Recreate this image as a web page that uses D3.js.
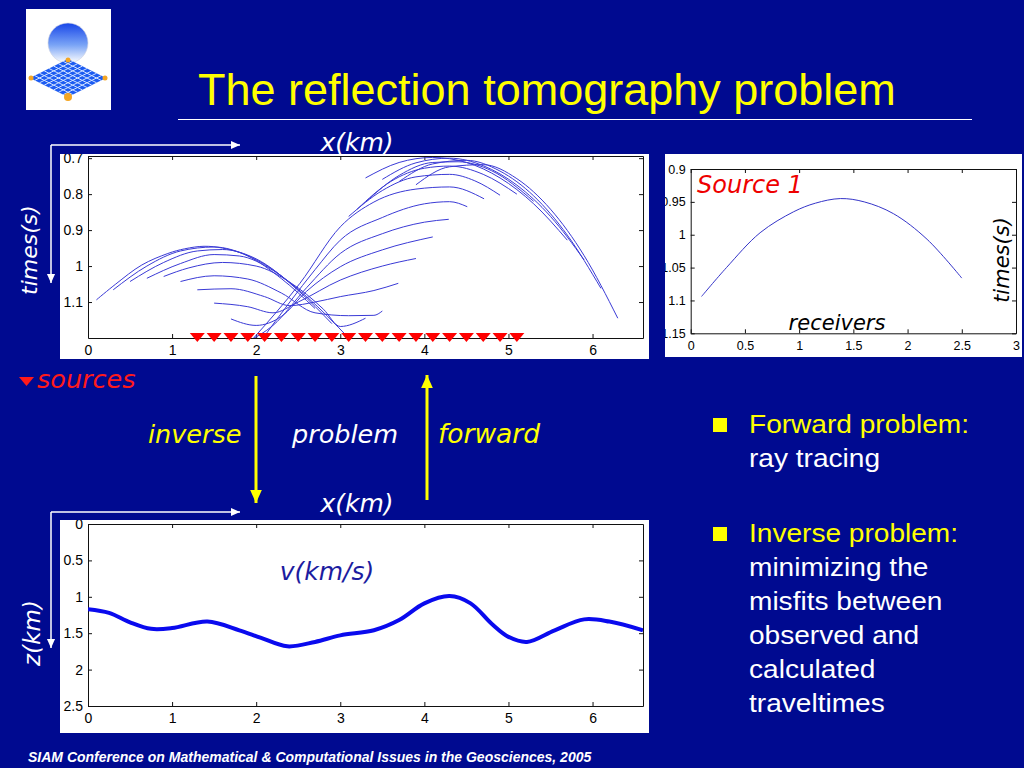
<!DOCTYPE html>
<html>
<head>
<meta charset="utf-8">
<script src="https://cdn.jsdelivr.net/npm/d3@7"></script>
<style>
  body { margin: 0; background: #000a90; }
  svg { display: block; }
</style>
</head>
<body>
<svg id="slide" width="1024" height="768"></svg>
<script>
// ---- data ----
const sourcePositions = [1.3, 1.5, 1.7, 1.9, 2.1, 2.3, 2.5, 2.7, 2.9, 3.1,
                         3.3, 3.5, 3.7, 3.9, 4.1, 4.3, 4.5, 4.7, 4.9, 5.1];

// source 1 traveltime curve (right panel, also first curve of the left panel)
const sourceOneX = [0.1, 0.33, 0.64, 0.95, 1.15, 1.38, 1.6, 1.87, 2.18, 2.5];
const sourceOneT = [1.094, 1.05, 0.997, 0.965, 0.952, 0.945, 0.95, 0.968, 1.007, 1.066];

// traveltime curves reflected off the left bump (x, t)
const leftFamily = [
  [[0.3,1.066],[0.7,1.0],[1.1,0.958],[1.5,0.947],[1.9,0.972],[2.3,1.035],[2.7,1.118]],
  [[0.5,1.043],[0.9,0.99],[1.3,0.958],[1.6,0.954],[2.0,0.98],[2.5,1.068],[2.9,1.16]],
  [[0.7,1.034],[1.1,0.993],[1.5,0.968],[1.8,0.972],[2.2,1.012],[2.6,1.085],[3.1,1.2]],
  [[0.9,1.029],[1.2,1.005],[1.6,0.99],[2.0,1.0],[2.4,1.045],[2.8,1.12],[3.0,1.168],[3.3,1.145]],
  [[1.1,1.043],[1.5,1.027],[1.9,1.036],[2.3,1.075],[2.7,1.13],[3.1,1.138],[3.4,1.137],[3.5,1.125]],
  [[1.3,1.066],[1.7,1.063],[2.1,1.085],[2.4,1.11],[2.7,1.1],[3.0,1.085],[3.4,1.068],[3.69,1.048]],
  [[1.5,1.103],[1.9,1.113],[2.2,1.13],[2.5,1.1],[3.0,1.039],[3.5,1.0],[3.9,0.979]],
  [[1.7,1.147],[2.0,1.165],[2.3,1.14],[2.6,1.07],[3.0,1.002],[3.5,0.955],[4.1,0.919]]
];

// traveltime curves reflected off the dome (x, t)
const domeFamily = [
  [[1.9,1.21],[2.2,1.165],[2.6,1.06],[3.0,0.965],[3.5,0.91],[4.0,0.878],[4.29,0.870]],
  [[2.05,1.21],[2.4,1.1],[2.7,1.01],[3.0,0.928],[3.5,0.865],[4.0,0.827],[4.3,0.821],[4.51,0.835]],
  [[1.97,1.2],[2.52,1.048],[3.0,0.891],[3.4,0.822],[3.9,0.786],[4.3,0.78],[4.71,0.813]],
  [[3.1,0.862],[3.5,0.79],[3.9,0.752],[4.3,0.745],[4.6,0.763],[4.9,0.803]],
  [[3.2,0.842],[3.6,0.765],[4.0,0.728],[4.3,0.722],[4.7,0.745],[5.1,0.80]],
  [[3.3,0.822],[3.7,0.748],[4.1,0.712],[4.4,0.71],[4.8,0.735],[5.3,0.82]],
  [[3.3,0.755],[3.7,0.712],[4.1,0.698],[4.5,0.712],[4.9,0.755],[5.3,0.827],[5.7,0.928]],
  [[3.5,0.759],[3.9,0.713],[4.3,0.70],[4.7,0.721],[5.1,0.775],[5.5,0.862],[5.9,0.983]],
  [[3.7,0.765],[4.1,0.716],[4.5,0.706],[4.9,0.736],[5.3,0.805],[5.7,0.914],[6.1,1.062]],
  [[3.9,0.774],[4.3,0.724],[4.7,0.718],[5.1,0.757],[5.5,0.842],[5.9,0.971],[6.3,1.145]]
];

// reflector depth (bottom panel)
const interfaceX = [0, 0.25, 0.5, 0.75, 1.0, 1.42, 1.8, 2.05, 2.37, 2.7, 3.0, 3.4, 3.7, 4.0, 4.3, 4.55, 4.8, 5.0, 5.22, 5.55, 5.9, 6.2, 6.6];
const interfaceZ = [1.17, 1.22, 1.35, 1.44, 1.43, 1.34, 1.46, 1.56, 1.68, 1.62, 1.53, 1.46, 1.32, 1.09, 0.99, 1.09, 1.37, 1.55, 1.62, 1.46, 1.31, 1.34, 1.46];

const kmTicks = [0, 1, 2, 3, 4, 5, 6];
const timeTicks = [0.7, 0.8, 0.9, 1, 1.1];
const depthTicks = [0, 0.5, 1, 1.5, 2, 2.5];
const receiverTicks = [0, 0.5, 1, 1.5, 2, 2.5, 3];
const sourceOneTicks = [0.9, 0.95, 1, 1.05, 1.1, 1.15];

const bulletGroups = [
  ["Forward problem:", "ray tracing"],
  ["Inverse problem:", "minimizing the", "misfits between", "observed and", "calculated", "traveltimes"]
];

// ---- drawing ----
const svg = d3.select("#slide");
const defs = svg.append("defs");
const YELLOW = "#ffff00";
const ITAL = "'DejaVu Sans', sans-serif";
const ARIAL = "'Liberation Sans', Arial, sans-serif";

svg.append("rect").attr("width", 1024).attr("height", 768).attr("fill", "#000a90");

// logo
const sphereGrad = defs.append("linearGradient").attr("id", "sphereGrad")
  .attr("x1", 0).attr("y1", 0).attr("x2", 0).attr("y2", 1);
sphereGrad.append("stop").attr("offset", "0%").attr("stop-color", "#1846e8");
sphereGrad.append("stop").attr("offset", "55%").attr("stop-color", "#7aa4f6");
sphereGrad.append("stop").attr("offset", "100%").attr("stop-color", "#ffffff");

const logo = svg.append("g");
logo.append("rect").attr("x", 26).attr("y", 9).attr("width", 85).attr("height", 101).attr("fill", "#fff");
logo.append("circle").attr("cx", 68).attr("cy", 43).attr("r", 20)
  .attr("fill", "url(#sphereGrad)").attr("stroke", "#d0d4e0").attr("stroke-width", 0.6);
const grid = logo.append("g").attr("transform", "matrix(38,19,-38,19,68,59)");
grid.append("rect").attr("width", 1).attr("height", 1).attr("fill", "#1d5cf2");
d3.range(1, 8).forEach(i => {
  grid.append("line").attr("x1", i / 8).attr("x2", i / 8).attr("y1", 0).attr("y2", 1)
    .attr("stroke", "#cfe0ff").attr("stroke-width", 1).attr("vector-effect", "non-scaling-stroke");
  grid.append("line").attr("y1", i / 8).attr("y2", i / 8).attr("x1", 0).attr("x2", 1)
    .attr("stroke", "#cfe0ff").attr("stroke-width", 1).attr("vector-effect", "non-scaling-stroke");
});
[[68, 60, 2.5], [31, 78, 2.5], [105, 78, 2.5], [68, 97, 4]].forEach(c => {
  logo.append("circle").attr("cx", c[0]).attr("cy", c[1]).attr("r", c[2]).attr("fill", "#f5a623");
});

// title
svg.append("text").attr("x", 198).attr("y", 105)
  .attr("font-family", ARIAL).attr("font-size", 45).attr("fill", YELLOW)
  .text("The reflection tomography problem");
svg.append("line").attr("x1", 178).attr("x2", 972).attr("y1", 119.5).attr("y2", 119.5)
  .attr("stroke", "#fff").attr("stroke-width", 1);

function makePanel(id, box, frame, xDom, yDom, xTicks, yTicks, fontSize, fontFamily, xPad) {
  svg.append("rect").attr("x", box[0]).attr("y", box[1])
    .attr("width", box[2] - box[0]).attr("height", box[3] - box[1]).attr("fill", "#fff");
  defs.append("clipPath").attr("id", id + "-box").append("rect")
    .attr("x", box[0]).attr("y", box[1]).attr("width", box[2] - box[0]).attr("height", box[3] - box[1]);
  defs.append("clipPath").attr("id", id + "-frame").append("rect")
    .attr("x", frame[0]).attr("y", frame[1]).attr("width", frame[2] - frame[0]).attr("height", frame[3] - frame[1]);

  const x = d3.scaleLinear().domain(xDom).range([frame[0], frame[2]]);
  const y = d3.scaleLinear().domain(yDom).range([frame[1], frame[3]]);
  const g = svg.append("g").attr("clip-path", `url(#${id}-box)`);
  const fmt = d => String(d);
  const style = sel => {
    sel.selectAll("text").attr("font-size", fontSize).attr("font-family", fontFamily).attr("fill", "#000");
    sel.selectAll("line,path").attr("stroke", "#111");
  };
  g.append("g").attr("transform", `translate(0,${frame[3]})`)
    .call(d3.axisBottom(x).tickValues(xTicks).tickFormat(fmt).tickSizeInner(-4).tickSizeOuter(0).tickPadding(xPad))
    .call(style);
  g.append("g").attr("transform", `translate(0,${frame[1]})`)
    .call(d3.axisTop(x).tickValues(xTicks).tickFormat("").tickSizeInner(-4).tickSizeOuter(0))
    .call(style);
  g.append("g").attr("transform", `translate(${frame[0]},0)`)
    .call(d3.axisLeft(y).tickValues(yTicks).tickFormat(fmt).tickSizeInner(-4).tickSizeOuter(0).tickPadding(5))
    .call(style);
  g.append("g").attr("transform", `translate(${frame[2]},0)`)
    .call(d3.axisRight(y).tickValues(yTicks).tickFormat("").tickSizeInner(-4).tickSizeOuter(0))
    .call(style);
  const plot = g.append("g").attr("clip-path", `url(#${id}-frame)`);
  return { x, y, g, plot };
}

// top-left: traveltimes of all sources
const tt = makePanel("tt", [60, 154, 649, 359], [88, 156, 643, 338],
  [0, 6.6], [0.694, 1.2], kmTicks, timeTicks, 14, ARIAL, 7);
const ttLine = d3.line().x(d => tt.x(d[0])).y(d => tt.y(d[1])).curve(d3.curveMonotoneX);
const sourceOne = sourceOneX.map((v, i) => [v, sourceOneT[i]]);
tt.plot.append("path").datum(sourceOne)
  .attr("d", ttLine.curve(d3.curveCatmullRom)).attr("fill", "none")
  .attr("stroke", "#3a3ad6").attr("stroke-width", 1);
ttLine.curve(d3.curveMonotoneX);
tt.plot.selectAll("path.tt")
  .data(leftFamily.concat(domeFamily))
  .join("path").attr("class", "tt")
  .attr("d", ttLine).attr("fill", "none")
  .attr("stroke", "#3a3ad6").attr("stroke-width", 1);
tt.g.selectAll("path.src").data(sourcePositions).join("path").attr("class", "src")
  .attr("d", d => {
    const cx = tt.x(d), top = tt.y(1.2) - 5;
    return `M${cx - 7.5},${top}L${cx + 7.5},${top}L${cx},${top + 9}Z`;
  })
  .attr("fill", "#ff0000");

// top-right: source 1
const s1 = makePanel("s1", [665, 154, 1022, 357], [690.7, 169, 1016, 333.3],
  [0, 3], [0.9, 1.15], receiverTicks, sourceOneTicks, 12.5, "'Liberation Sans Narrow', 'Liberation Sans', sans-serif", 8);
s1.plot.append("path").datum(sourceOne)
  .attr("d", d3.line().x(d => s1.x(d[0])).y(d => s1.y(d[1])).curve(d3.curveCatmullRom))
  .attr("fill", "none").attr("stroke", "#3434c8").attr("stroke-width", 1);
svg.append("text").attr("x", 697).attr("y", 193).attr("font-family", ITAL).attr("font-style", "italic")
  .attr("font-size", 24).attr("fill", "#ee0000").text("Source 1");
svg.append("text").attr("x", 837).attr("y", 330).attr("text-anchor", "middle")
  .attr("font-family", ITAL).attr("font-style", "italic").attr("font-size", 21).attr("fill", "#000")
  .text("receivers");
svg.append("text").attr("transform", "translate(1009,260) rotate(-90)").attr("text-anchor", "middle")
  .attr("font-family", ITAL).attr("font-style", "italic").attr("font-size", 21).attr("fill", "#000")
  .text("times(s)");

// bottom: reflector depth
const zp = makePanel("zp", [60, 520, 649, 733], [88, 524, 643, 706],
  [0, 6.6], [0, 2.5], kmTicks, depthTicks, 14, ARIAL, 7);
zp.plot.append("path").datum(interfaceX.map((v, i) => [v, interfaceZ[i]]))
  .attr("d", d3.line().x(d => zp.x(d[0])).y(d => zp.y(d[1])).curve(d3.curveCatmullRom))
  .attr("fill", "none").attr("stroke", "#0a0aee").attr("stroke-width", 4);
svg.append("text").attr("x", 327).attr("y", 580).attr("text-anchor", "middle")
  .attr("font-family", ITAL).attr("font-style", "italic").attr("font-size", 25).attr("fill", "#1c1ca0")
  .text("v(km/s)");

// axis arrows and labels on the blue background
function arrow(x1, y1, x2, y2, color, width, head) {
  svg.append("line").attr("x1", x1).attr("y1", y1).attr("x2", x2).attr("y2", y2)
    .attr("stroke", color).attr("stroke-width", width);
  const a = Math.atan2(y2 - y1, x2 - x1);
  const p = [[x2, y2],
    [x2 - head * Math.cos(a) + head * 0.45 * Math.sin(a), y2 - head * Math.sin(a) - head * 0.45 * Math.cos(a)],
    [x2 - head * Math.cos(a) - head * 0.45 * Math.sin(a), y2 - head * Math.sin(a) + head * 0.45 * Math.cos(a)]];
  svg.append("path").attr("d", "M" + p.join("L") + "Z").attr("fill", color);
}
arrow(51, 145, 240, 145, "#fff", 1.5, 9);
arrow(51, 145, 51, 283, "#fff", 1.5, 9);
arrow(51, 512, 240, 512, "#fff", 1.5, 9);
arrow(51, 512, 51, 648, "#fff", 1.5, 9);
arrow(256, 376, 256, 503, YELLOW, 3, 13);
arrow(427, 500, 427, 375, YELLOW, 3, 13);

const label = (x, y, txt, color, size, anchor, rot) => {
  const t = svg.append("text").attr("font-family", ITAL).attr("font-style", "italic")
    .attr("font-size", size).attr("fill", color).attr("text-anchor", anchor || "start").text(txt);
  if (rot) t.attr("transform", `translate(${x},${y}) rotate(${rot})`);
  else t.attr("x", x).attr("y", y);
};
label(357, 151, "x(km)", "#fff", 25, "middle");
label(357, 512, "x(km)", "#fff", 25, "middle");
label(37, 250, "times(s)", "#fff", 22, "middle", -90);
label(40, 633, "z(km)", "#fff", 23, "middle", -90);
label(37, 388, "sources", "#ff1a1a", 25.5);
label(148, 443, "inverse", YELLOW, 25.5);
label(292, 443, "problem", "#fff", 25.5);
label(438, 443, "forward", YELLOW, 26.5);
svg.append("path").attr("d", "M19,377L34,377L26.5,386Z").attr("fill", "#ff1a1a");

// bullets
const groupTop = [433, 542];
bulletGroups.forEach((lines, gi) => {
  svg.append("rect").attr("x", 713).attr("y", groupTop[gi] - 15).attr("width", 14).attr("height", 14).attr("fill", YELLOW);
  lines.forEach((s, li) => {
    svg.append("text").attr("transform", `translate(749,${groupTop[gi] + li * 34}) scale(1.08,1)`)
      .attr("font-family", ARIAL).attr("font-size", 26)
      .attr("fill", li === 0 ? YELLOW : "#fff").text(s);
  });
});

// footer
svg.append("text").attr("x", 28).attr("y", 762)
  .attr("font-family", ARIAL).attr("font-style", "italic").attr("font-weight", "bold")
  .attr("font-size", 14).attr("fill", "#fff")
  .text("SIAM Conference on Mathematical & Computational Issues in the Geosciences, 2005");
</script>
</body>
</html>
